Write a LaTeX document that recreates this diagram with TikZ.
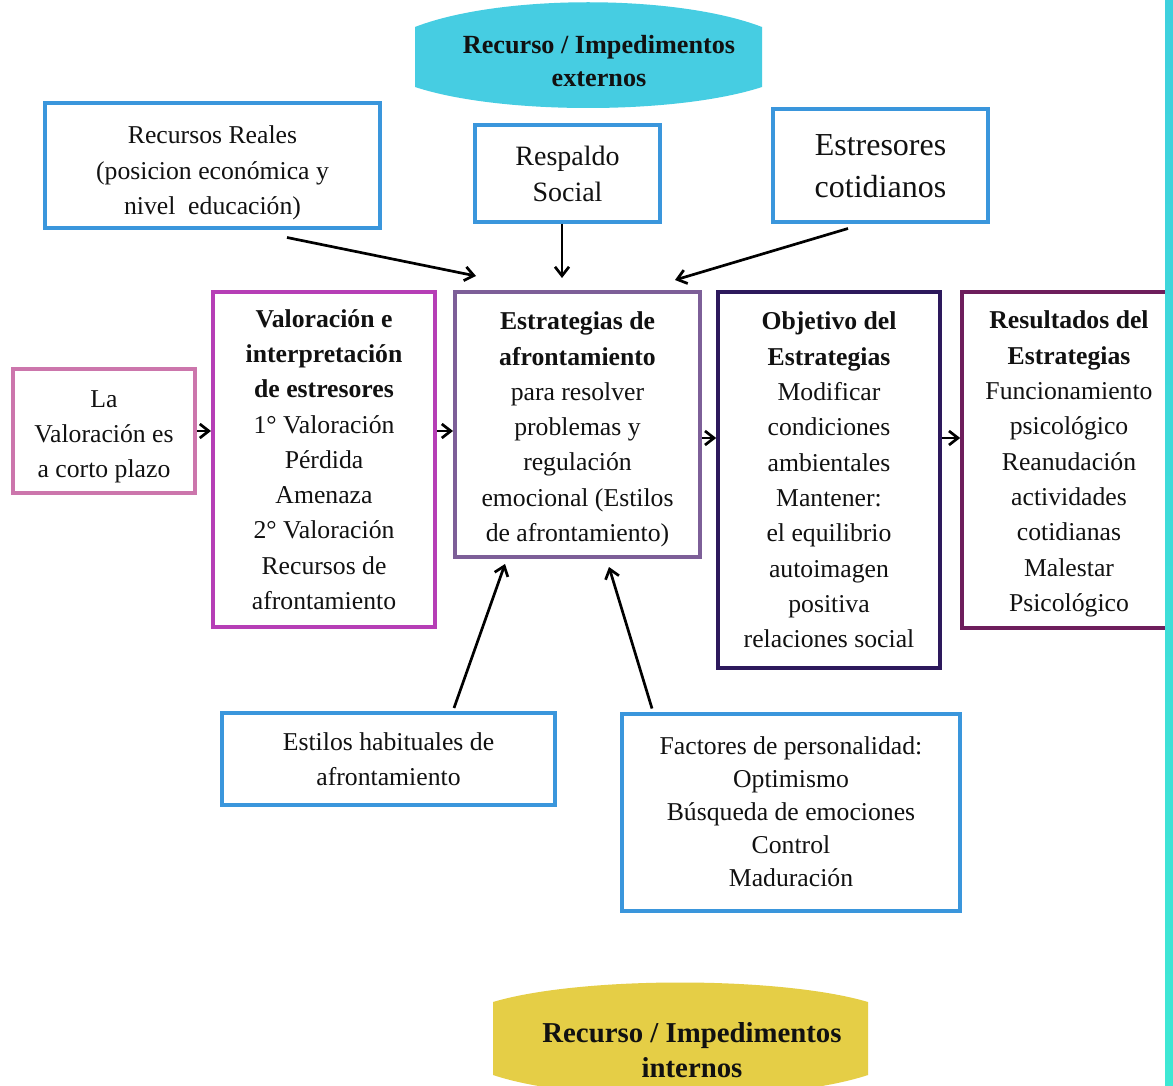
\documentclass[tikz,border=0pt]{standalone}
\usepackage{fontspec}
\setmainfont{Liberation Serif}
\usetikzlibrary{arrows.meta,calc}
\definecolor{cblue}{RGB}{58,150,220}
\definecolor{cpink}{RGB}{204,118,172}
\definecolor{cmag}{RGB}{182,62,182}
\definecolor{cpurp}{RGB}{125,95,152}
\definecolor{cindigo}{RGB}{45,25,92}
\definecolor{cplum}{RGB}{110,30,92}
\definecolor{ccyan}{RGB}{70,205,226}
\definecolor{cyel}{RGB}{229,206,70}
\definecolor{cbartop}{RGB}{62,208,222}
\definecolor{cbarbot}{RGB}{62,232,212}
\definecolor{ctext}{RGB}{17,17,17}
\begin{document}
\begin{tikzpicture}[x=1pt,y=-1pt,
  bx/.style={draw, line width=4pt, align=center, inner sep=0pt, fill=white,
    text=ctext, font=\fontsize{25.7}{35.3}\selectfont},
  tx/.style={align=center, inner sep=0pt, text=ctext, font=\fontsize{25.7}{35.3}\selectfont},
  arr/.style={line width=2.7pt, -{Straight Barb[length=9pt,width=14pt]}},
  lenstext/.style={align=center, text=ctext, inner sep=0pt}
]
\useasboundingbox (0,0) rectangle (1173,1086);
\fill[white] (0,0) rectangle (1173,1086);

% top lens
\fill[ccyan] (415,27) .. controls (500,-6) and (676,-6) .. (762,27) -- (762,87)
  .. controls (676,115) and (500,115) .. (415,87) -- cycle;
\node[lenstext, font=\bfseries\fontsize{26.2}{33}\selectfont] (ext) at (599,61)
  {Recurso / Impedimentos\\externos};

% bottom lens
\fill[cyel] (493,1002) .. controls (580,976) and (780,976) .. (868,1002) -- (868,1075)
  .. controls (780,1104) and (580,1104) .. (493,1075) -- cycle;
\node[lenstext, font=\bfseries\fontsize{28.8}{35}\selectfont] (int) at (692,1050)
  {Recurso / Impedimentos\\internos};

% top boxes
\node[bx, draw=cblue, minimum width=335pt, minimum height=125pt] (rr) at (212.5,166) {};
\node[tx] (rrt) at ($(rr)+(0,7)$)
  {Recursos Reales\\(posicion económica y\\nivel~ educación)};
\node[bx, draw=cblue, minimum width=185pt, minimum height=97pt,
  font=\fontsize{28}{36}\selectfont] (rs) at (567.5,173.5)
  {Respaldo\\Social};
\node[bx, draw=cblue, minimum width=215pt, minimum height=113pt,
  font=\fontsize{32}{42}\selectfont] (ec) at (880.5,166)
  {Estresores\\cotidianos};

% middle row
\node[bx, draw=cpink, minimum width=182pt, minimum height=124pt] (lv) at (104,431) {};
\node[tx] (lvt) at ($(lv)+(0,6)$) {La\\Valoración es\\a corto plazo};
\node[bx, draw=cmag, minimum width=222pt, minimum height=335pt] (vi) at (324,459.5)
  {\textbf{Valoración e}\\\textbf{interpretación}\\\textbf{de estresores}\\1° Valoración\\Pérdida\\Amenaza\\2° Valoración\\Recursos de\\afrontamiento};
\node[bx, draw=cpurp, minimum width=245pt, minimum height=265pt] (ea) at (577.5,424.5) {};
\node[tx] (eat) at ($(ea)+(0,5)$)
  {\textbf{Estrategias de}\\\textbf{afrontamiento}\\para resolver\\problemas y\\regulación\\emocional (Estilos\\de afrontamiento)};
\node[bx, draw=cindigo, line width=3.6pt, minimum width=222pt, minimum height=376pt] (ob) at (829,480)
  {\textbf{Objetivo del}\\\textbf{Estrategias}\\Modificar\\condiciones\\ambientales\\Mantener:\\el equilibrio\\autoimagen\\positiva\\relaciones social};
\node[bx, draw=cplum, line width=3.6pt, minimum width=218pt, minimum height=336pt] (re) at (1071,460) {};
\node[tx] (ret) at ($(re)+(-2,4)$)
  {\textbf{Resultados del}\\\textbf{Estrategias}\\Funcionamiento\\psicológico\\Reanudación\\actividades\\cotidianas\\Malestar\\Psicológico};

% bottom boxes
\node[bx, draw=cblue, minimum width=333pt, minimum height=92pt] (eh) at (388.5,759)
  {Estilos habituales de\\afrontamiento};
\node[bx, draw=cblue, minimum width=338pt, minimum height=197pt,
  font=\fontsize{25.7}{33}\selectfont] (fp) at (791,812)
  {Factores de personalidad:\\Optimismo\\Búsqueda de emociones\\Control\\Maduración};

% horizontal arrows
\draw[arr] (lv.east) -- (lv.east -| vi.west);
\draw[arr] (vi.east |- lv.east) -- (ea.west |- lv.east);
\coordinate (hy) at ($(ea.east)+(0,13.5)$);
\draw[arr] (hy) -- (hy -| ob.west);
\draw[arr] (hy -| ob.east) -- (hy -| re.west);

% arrows into the central box
\draw[arr] ($(rr.south)+(74.5,7)$) -- ($(ea.north)+(-101.5,-14)$);
\draw[arr] ($(rs.south)+(-5.5,0)$) -- ($(ea.north)+(-15.5,-12)$);
\draw[arr] ($(ec.south)+(-32.5,4)$) -- ($(ea.north)+(97.5,-10)$);
\draw[arr] ($(eh.north)+(65.5,-3)$) -- ($(ea.south)+(-72.5,5)$);
\draw[arr] ($(fp.north)+(-139,-3)$) -- ($(ea.south)+(31.5,8)$);

% right edge bar
\shade[top color=cbartop, bottom color=cbarbot] (1165,0) rectangle (1173,1086);
\end{tikzpicture}
\end{document}
